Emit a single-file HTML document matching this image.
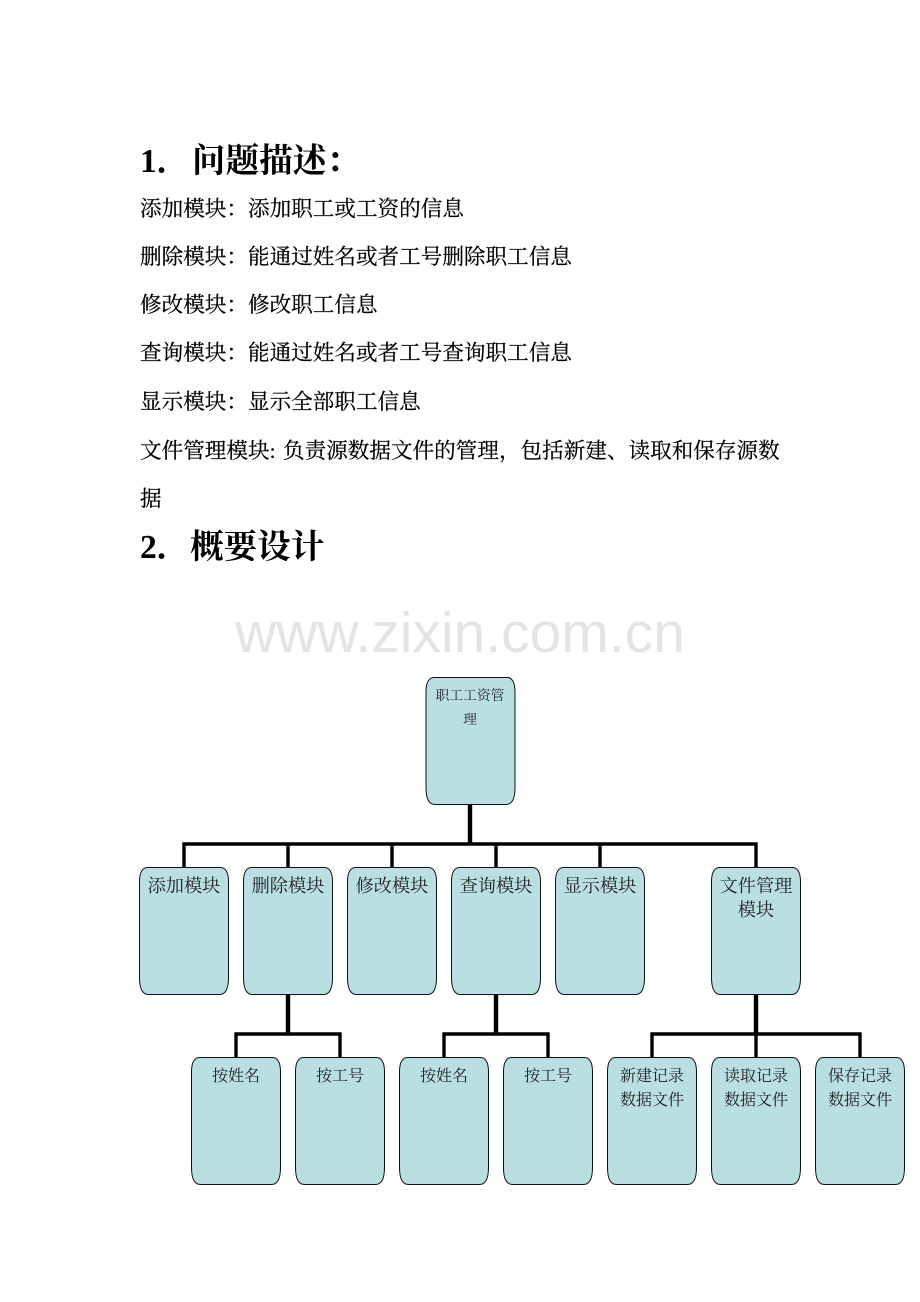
<!DOCTYPE html>
<html lang="zh-CN">
<head>
<meta charset="utf-8">
<title>职工工资管理</title>
<style>
html,body{margin:0;padding:0;background:#fff;width:920px;height:1302px;overflow:hidden}
svg{display:block}
text{font-family:"Liberation Serif","Noto Serif CJK SC",serif;fill:#000}
.h{font-size:33.6px;font-weight:700}
.b{font-size:21.6px;stroke:#000;stroke-width:.22px}
.r{font-size:13.8px;text-anchor:middle;fill:#222}
.m{font-size:18.2px;text-anchor:middle;fill:#222}
.s{font-size:16px;text-anchor:middle;fill:#222}
.w{font-family:"Liberation Sans",sans-serif;font-size:57px;fill:#e4e4e4;text-anchor:middle}
path.n{fill:#b9dfe3;stroke:#111;stroke-width:1}
.l{fill:none;stroke:#000;stroke-width:3.4}
.t{fill:none;stroke:#000;stroke-width:4.4}
</style>
</head>
<body>
<svg width="920" height="1302" viewBox="0 0 920 1302" xmlns="http://www.w3.org/2000/svg">
<defs>
<path id="box" class="n" d="M8 0H81C86 0 89 5 89 14V110C89 121 86 127 80 127H9C3 127 0 121 0 110V14C0 5 3 0 8 0Z"/>
</defs>
<text class="h" x="140" y="172">1．</text>
<text class="h" x="192" y="172">问题描述：</text>
<text class="b" x="140" y="216">添加模块：添加职工或工资的信息</text>
<text class="b" x="140" y="264">删除模块：能通过姓名或者工号删除职工信息</text>
<text class="b" x="140" y="312">修改模块：修改职工信息</text>
<text class="b" x="140" y="360">查询模块：能通过姓名或者工号查询职工信息</text>
<text class="b" x="140" y="409">显示模块：显示全部职工信息</text>
<text class="b" x="140" y="458">文件管理模块:</text>
<text class="b" x="283" y="458">负责源数据文件的管理，包括新建、读取和保存源数</text>
<text class="b" x="140" y="506">据</text>
<text class="h" x="140" y="558">2．</text>
<text class="h" x="190" y="558">概要设计</text>
<text class="w" x="460" y="652">www.zixin.com.cn</text>

<path class="t" d="M470 805V844"/>
<path class="l" d="M184 868V844H756V868M288 844V868M392 844V868M496 844V868M600 844V868"/>
<path class="t" d="M288 994V1034M496 994V1034M756 994V1034"/>
<path class="l" d="M236 1058V1034H340V1058"/>
<path class="l" d="M444 1058V1034H548V1058"/>
<path class="l" d="M652 1058V1034H860V1058M756 1034V1058"/>

<use href="#box" x="426" y="677.5"/>

<use href="#box" x="139.5" y="867.5"/>
<use href="#box" x="243.5" y="867.5"/>
<use href="#box" x="347.5" y="867.5"/>
<use href="#box" x="451.5" y="867.5"/>
<use href="#box" x="555.5" y="867.5"/>
<use href="#box" x="711.5" y="867.5"/>

<use href="#box" x="191.5" y="1057.5"/>
<use href="#box" x="295.5" y="1057.5"/>
<use href="#box" x="399.5" y="1057.5"/>
<use href="#box" x="503.5" y="1057.5"/>
<use href="#box" x="607.5" y="1057.5"/>
<use href="#box" x="711.5" y="1057.5"/>
<use href="#box" x="815.5" y="1057.5"/>

<text class="r" x="470" y="700">职工工资管</text>
<text class="r" x="470" y="724">理</text>

<text class="m" x="184" y="892">添加模块</text>
<text class="m" x="288" y="892">删除模块</text>
<text class="m" x="392" y="892">修改模块</text>
<text class="m" x="496" y="892">查询模块</text>
<text class="m" x="600" y="892">显示模块</text>
<text class="m" x="756" y="892">文件管理</text>
<text class="m" x="756" y="916">模块</text>

<text class="s" x="236" y="1081">按姓名</text>
<text class="s" x="340" y="1081">按工号</text>
<text class="s" x="444" y="1081">按姓名</text>
<text class="s" x="548" y="1081">按工号</text>
<text class="s" x="652" y="1081">新建记录</text>
<text class="s" x="652" y="1105">数据文件</text>
<text class="s" x="756" y="1081">读取记录</text>
<text class="s" x="756" y="1105">数据文件</text>
<text class="s" x="860" y="1081">保存记录</text>
<text class="s" x="860" y="1105">数据文件</text>
</svg>
</body>
</html>
